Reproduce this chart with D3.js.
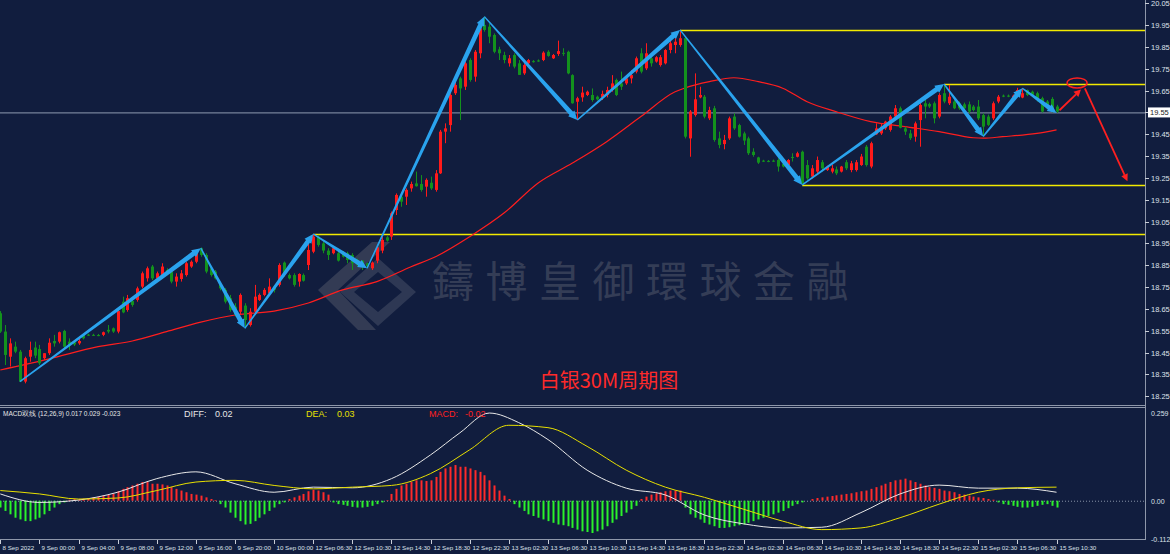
<!DOCTYPE html>
<html><head><meta charset="utf-8">
<script src="https://cdn.jsdelivr.net/npm/d3@7"></script>
<style>
html,body{margin:0;padding:0;background:#111d3e;overflow:hidden;}
svg{display:block;}
</style></head><body>
<svg id="c" width="1170" height="554"></svg>
<script>
// ---------------- DATA ----------------
const opens=[18.630,18.546,18.431,18.477,18.454,18.317,18.431,18.473,18.466,18.424,
18.447,18.503,18.500,18.549,18.500,18.497,18.492,18.531,18.532,18.531,
18.530,18.531,18.554,18.561,18.546,18.683,18.645,18.686,18.691,18.752,
18.790,18.844,18.790,18.805,18.828,18.821,18.775,18.787,18.805,18.844,
18.866,18.928,18.897,18.836,18.821,18.760,18.737,18.699,18.660,18.637,
18.665,18.576,18.637,18.691,18.714,18.721,18.752,18.760,18.862,18.805,
18.805,18.775,18.805,18.851,18.912,18.981,18.950,18.917,18.905,18.905,
18.908,18.905,18.897,18.874,18.871,18.859,18.836,18.871,18.917,18.978,
18.981,19.103,19.164,19.164,19.202,19.225,19.222,19.210,19.228,19.195,
19.271,19.462,19.492,19.638,19.706,19.668,19.790,19.714,19.821,19.951,
19.943,19.905,19.839,19.813,19.775,19.813,19.775,19.729,19.775,19.785,
19.788,19.790,19.828,19.798,19.818,19.823,19.828,19.721,19.599,19.619,
19.630,19.630,19.622,19.619,19.630,19.653,19.699,19.683,19.683,19.706,
19.737,19.821,19.752,19.798,19.783,19.767,19.775,19.836,19.859,19.859,
19.890,19.431,19.538,19.619,19.622,19.523,19.569,19.431,19.405,19.431,
19.531,19.492,19.454,19.431,19.370,19.344,19.329,19.328,19.329,19.332,
19.314,19.309,19.346,19.347,19.370,19.309,19.256,19.279,19.322,19.286,
19.279,19.289,19.279,19.322,19.286,19.286,19.309,19.393,19.302,19.450,
19.454,19.477,19.470,19.531,19.569,19.477,19.454,19.439,19.515,19.592,
19.589,19.592,19.531,19.638,19.592,19.600,19.592,19.587,19.587,19.577,
19.577,19.538,19.531,19.523,19.600,19.627,19.627,19.612,19.638,19.618,
19.653,19.645,19.638,19.615,19.600,19.612,19.577];
const highs=[18.640,18.576,18.515,18.500,18.462,18.431,18.500,18.500,18.485,18.447,
18.515,18.531,18.546,18.554,18.515,18.503,18.515,18.538,18.536,18.536,
18.535,18.546,18.576,18.565,18.653,18.706,18.714,18.691,18.752,18.821,
18.844,18.851,18.821,18.859,18.836,18.836,18.813,18.828,18.866,18.872,
18.920,18.931,18.905,18.844,18.828,18.770,18.745,18.714,18.676,18.721,
18.676,18.653,18.760,18.721,18.745,18.790,18.759,18.859,18.867,18.812,
18.813,18.813,18.812,18.950,18.993,18.989,18.958,18.928,18.935,18.920,
18.915,18.912,18.905,18.880,18.874,18.862,18.867,18.943,18.981,18.985,
19.096,19.179,19.172,19.202,19.233,19.279,19.263,19.248,19.256,19.286,
19.470,19.500,19.638,19.699,19.714,19.783,19.798,19.836,19.951,19.989,
19.958,19.912,19.851,19.828,19.813,19.821,19.790,19.775,19.795,19.790,
19.793,19.830,19.835,19.818,19.879,19.844,19.833,19.725,19.622,19.668,
19.650,19.660,19.627,19.650,19.668,19.721,19.705,19.737,19.721,19.744,
19.806,19.844,19.867,19.813,19.808,19.813,19.840,19.890,19.890,19.928,
19.897,19.561,19.729,19.668,19.630,19.576,19.580,19.462,19.447,19.531,
19.546,19.498,19.462,19.439,19.386,19.347,19.333,19.332,19.334,19.340,
19.320,19.336,19.363,19.370,19.375,19.332,19.309,19.348,19.332,19.306,
19.309,19.302,19.305,19.332,19.328,19.332,19.360,19.401,19.416,19.500,
19.500,19.512,19.538,19.584,19.577,19.485,19.470,19.508,19.607,19.630,
19.595,19.600,19.638,19.680,19.676,19.607,19.600,19.595,19.600,19.584,
19.607,19.546,19.540,19.600,19.630,19.632,19.632,19.632,19.663,19.661,
19.655,19.650,19.645,19.622,19.607,19.620,19.585];
const lows=[18.540,18.393,18.386,18.447,18.317,18.309,18.408,18.424,18.393,18.416,
18.439,18.477,18.492,18.469,18.462,18.480,18.485,18.510,18.526,18.526,
18.525,18.525,18.538,18.540,18.538,18.630,18.637,18.660,18.683,18.744,
18.775,18.782,18.782,18.798,18.805,18.767,18.752,18.775,18.798,18.838,
18.859,18.889,18.813,18.798,18.785,18.735,18.675,18.637,18.615,18.622,
18.561,18.569,18.630,18.686,18.708,18.714,18.725,18.752,18.798,18.785,
18.752,18.752,18.775,18.828,18.905,18.935,18.905,18.874,18.900,18.867,
18.885,18.859,18.828,18.845,18.828,18.836,18.828,18.859,18.905,18.958,
18.966,19.080,19.118,19.126,19.187,19.210,19.187,19.164,19.195,19.187,
19.268,19.409,19.462,19.630,19.515,19.653,19.691,19.691,19.798,19.920,
19.867,19.821,19.790,19.775,19.760,19.752,19.722,19.722,19.770,19.778,
19.782,19.785,19.805,19.795,19.809,19.809,19.725,19.590,19.515,19.599,
19.625,19.599,19.605,19.607,19.619,19.645,19.625,19.653,19.676,19.683,
19.729,19.729,19.744,19.760,19.778,19.760,19.770,19.821,19.821,19.851,
19.431,19.347,19.531,19.615,19.523,19.515,19.416,19.386,19.381,19.424,
19.470,19.435,19.401,19.355,19.347,19.314,19.323,19.322,19.323,19.279,
19.298,19.305,19.325,19.344,19.218,19.241,19.248,19.271,19.279,19.282,
19.271,19.263,19.275,19.286,19.276,19.279,19.305,19.302,19.294,19.447,
19.447,19.470,19.462,19.523,19.477,19.447,19.424,19.416,19.393,19.523,
19.570,19.500,19.523,19.592,19.584,19.565,19.562,19.560,19.546,19.555,
19.515,19.440,19.488,19.515,19.592,19.620,19.620,19.608,19.635,19.615,
19.625,19.625,19.600,19.550,19.565,19.550,19.548];
const closes=[18.546,18.439,18.492,18.454,18.317,18.424,18.462,18.436,18.401,18.447,
18.495,18.492,18.543,18.477,18.485,18.487,18.503,18.515,18.530,18.529,
18.528,18.543,18.546,18.546,18.640,18.634,18.699,18.668,18.744,18.813,
18.836,18.790,18.813,18.844,18.813,18.775,18.798,18.813,18.859,18.866,
18.905,18.897,18.821,18.805,18.790,18.744,18.683,18.645,18.622,18.714,
18.599,18.637,18.706,18.714,18.737,18.752,18.737,18.851,18.813,18.790,
18.760,18.810,18.779,18.920,18.981,18.943,18.917,18.897,18.928,18.871,
18.889,18.874,18.859,18.851,18.844,18.844,18.862,18.932,18.966,18.963,
19.088,19.172,19.141,19.195,19.222,19.212,19.195,19.241,19.202,19.271,
19.462,19.477,19.630,19.676,19.660,19.775,19.699,19.828,19.935,19.928,
19.897,19.828,19.821,19.790,19.798,19.760,19.722,19.767,19.790,19.782,
19.786,19.824,19.809,19.813,19.831,19.820,19.729,19.592,19.615,19.641,
19.645,19.607,19.610,19.635,19.653,19.683,19.630,19.668,19.706,19.721,
19.798,19.737,19.821,19.775,19.803,19.803,19.836,19.867,19.874,19.890,
19.439,19.554,19.610,19.630,19.531,19.561,19.424,19.401,19.424,19.523,
19.477,19.439,19.421,19.363,19.355,19.320,19.327,19.326,19.327,19.302,
19.302,19.332,19.342,19.363,19.225,19.248,19.294,19.332,19.294,19.302,
19.294,19.271,19.302,19.294,19.317,19.322,19.348,19.309,19.409,19.477,
19.485,19.508,19.531,19.569,19.480,19.462,19.432,19.500,19.584,19.577,
19.577,19.523,19.630,19.600,19.622,19.569,19.569,19.569,19.554,19.561,
19.523,19.485,19.493,19.592,19.622,19.624,19.624,19.627,19.653,19.638,
19.630,19.630,19.607,19.554,19.569,19.554,19.554];

// moving average (red line), read at sampled bars
const maBars=[0,10,20,27,34,41,48,56,63,70,77,84,89,96,103,110,117,124,131,138,140,145,150,155,160,165,171,178,185,192,199,201,205,212,216];
const maValues=[18.370,18.421,18.477,18.503,18.546,18.589,18.622,18.640,18.677,18.737,18.775,18.843,18.889,18.981,19.089,19.227,19.318,19.416,19.531,19.645,19.662,19.691,19.709,19.691,19.661,19.599,19.553,19.508,19.485,19.462,19.434,19.432,19.439,19.454,19.470];

// zigzag swing points
const zigBars=[4,41,50,64,75,99,118,139,164,193,201,209,216];
const zigPrices=[18.317,18.928,18.561,18.993,18.836,19.989,19.515,19.928,19.218,19.680,19.440,19.661,19.548];

// yellow horizontal levels
const levelPrices=[19.928,19.680,19.218,18.993];
const levelStartBars=[139,193,164,64];

// red forecast annotation
const ellipseBar=220.2, ellipsePrice=19.685;
const arrowFromBars=[216.6,221.8], arrowFromPrices=[19.560,19.660];
const arrowToBars=[221.0,230.5], arrowToPrices=[19.655,19.235];

// MACD
const histValues=[-0.02,-0.03,-0.04,-0.05,-0.055,-0.06,-0.06,-0.055,-0.05,-0.04,-0.03,-0.02,
-0.01,-0.005,0.003,0.005,0.005,0.006,0.008,0.01,0.012,0.015,0.018,
0.02,0.028,0.035,0.04,0.045,0.05,0.055,0.055,0.05,0.05,0.048,0.045,0.04,0.035,0.03,0.025,0.02,0.018,
0.015,0.01,0.005,0.002,
-0.01,-0.02,-0.035,-0.05,-0.06,-0.07,-0.068,-0.06,-0.05,-0.04,-0.03,
-0.02,-0.01,-0.005,0.005,0.01,0.015,0.02,
0.028,0.032,0.03,0.025,0.018,
-0.005,-0.01,-0.012,-0.015,-0.018,-0.02,-0.02,-0.018,-0.015,-0.01,-0.005,0.002,
0.02,0.035,0.045,0.05,0.055,0.06,0.06,0.058,0.06,0.07,0.085,0.095,0.1,0.105,0.1,0.1,0.095,0.09,0.085,0.075,0.06,0.045,
0.03,0.015,0.005,
-0.01,-0.02,-0.03,-0.04,-0.045,-0.05,-0.055,-0.06,-0.065,-0.07,-0.072,-0.075,-0.08,-0.085,-0.09,-0.092,-0.095,-0.09,-0.085,-0.075,-0.065,-0.055,-0.045,-0.035,-0.025,-0.015,
0.005,0.012,0.018,0.022,0.025,0.028,0.03,0.03,0.03,
-0.02,-0.04,-0.05,-0.055,-0.065,-0.07,-0.075,-0.08,-0.08,-0.078,-0.075,-0.072,-0.07,-0.065,-0.06,-0.055,-0.05,-0.045,-0.04,-0.035,-0.03,-0.022,-0.015,
-0.01,-0.005,0.0,
0.005,0.008,0.01,0.012,0.014,0.016,0.018,0.02,0.022,0.025,0.028,0.03,0.035,0.04,0.045,0.05,0.055,0.06,0.062,0.065,0.06,0.055,0.05,0.045,0.04,0.038,0.035,0.03,0.028,0.025,0.02,0.018,0.015,0.012,0.01,0.008,0.005,0.003,
-0.005,-0.01,-0.012,-0.015,-0.018,-0.02,-0.02,-0.018,-0.015,-0.012,-0.01,-0.015,-0.02];
const diffBars=[0,8,16,24,32,40,48,56,64,72,80,88,94,100,106,112,120,128,136,144,152,160,168,176,184,192,200,208,216];
const diffValues=[0.02,-0.005,0.002,0.025,0.065,0.085,0.05,0.025,0.04,0.038,0.065,0.135,0.2,0.258,0.23,0.18,0.09,0.037,0.017,-0.042,-0.068,-0.08,-0.078,-0.035,0.02,0.046,0.037,0.037,0.025];
const deaBars=[0,8,16,24,32,40,48,56,64,72,80,88,96,104,112,120,128,136,144,152,160,168,176,184,192,200,208,216];
const deaValues=[0.03,0.02,0.005,0.008,0.03,0.055,0.06,0.045,0.035,0.04,0.045,0.08,0.15,0.222,0.215,0.16,0.09,0.04,0.01,-0.025,-0.06,-0.085,-0.08,-0.05,-0.01,0.025,0.038,0.04];

// axes labels
const priceTicks=[20.05,19.95,19.85,19.75,19.65,19.55,19.45,19.35,19.25,19.15,19.05,18.95,18.85,18.75,18.65,18.55,18.45,18.35,18.25];
const timeTickBars=[0,8,16,24,32,40,48,56,64,72,80,88,96,104,112,120,128,136,144,152,160,168,176,184,192,200,208,216];
const timeLabels=["8 Sep 2022","9 Sep 00:00","9 Sep 04:00","9 Sep 08:00","9 Sep 12:00","9 Sep 16:00","9 Sep 20:00","10 Sep 00:00","12 Sep 06:30","12 Sep 10:30","12 Sep 14:30","12 Sep 18:30","12 Sep 22:30","13 Sep 02:30","13 Sep 06:30","13 Sep 10:30","13 Sep 14:30","13 Sep 18:30","13 Sep 22:30","14 Sep 02:30","14 Sep 06:30","14 Sep 10:30","14 Sep 14:30","14 Sep 18:30","14 Sep 22:30","15 Sep 02:30","15 Sep 06:30","15 Sep 10:30"];
const macdTicks=[0.259,0.0,-0.112];
const macdTickLabels=["0.259","0.00","-0.112"];
const currentPrice=19.55;

// ---------------- DRAW ----------------
const W=1170,H=554, BG="#111d3e";
const PLOT_R=1145, MAIN_B=405, MACD_T=408, MACD_B=539;
const svg=d3.select("#c");
svg.append("rect").attr("width",W).attr("height",H).attr("fill",BG);

const x=d3.scaleLinear().domain([0,216]).range([0.3,1056.54]);
const y=d3.scaleLinear().domain([18.25,20.05]).range([396.2,3.3]);
const ym=d3.scaleLinear().domain([-0.112,0.259]).range([538.8,412.7]);
const RED="#ff1a1a", GREEN="#13921d";
const FONT="'Liberation Sans',Arial,sans-serif";

svg.append("defs").append("clipPath").attr("id","mainClip").append("rect").attr("x",0).attr("y",0).attr("width",PLOT_R).attr("height",MAIN_B);
svg.select("defs").append("clipPath").attr("id","macdClip").append("rect").attr("x",0).attr("y",MACD_T).attr("width",PLOT_R).attr("height",MACD_B-MACD_T);

const main=svg.append("g").attr("clip-path","url(#mainClip)");

// watermark logo + text
const wm=main.append("g").attr("opacity",0.38);
wm.append("path").attr("d","M372,242 L390,242 L338,290 L376,330 L358,330 L318,290 Z").attr("fill","#6a6d7a");
wm.append("path").attr("d","M378,258 L416,292 L378,326 L340,292 Z M378,272 L354,292 L378,312 L402,292 Z").attr("fill","#5d6478").attr("fill-rule","evenodd");
wm.append("text").attr("x",432).attr("y",297).attr("font-family","'Noto Sans CJK TC','Noto Sans CJK SC',sans-serif")
  .attr("font-size",42).attr("letter-spacing",11.5).attr("fill","#6e717f").text("鑄博皇御環球金融");

// current price line
main.append("line").attr("x1",0).attr("x2",PLOT_R).attr("y1",y(currentPrice)+0.5).attr("y2",y(currentPrice)+0.5)
  .attr("stroke","#76829a").attr("stroke-width",1.2);

// yellow levels
main.selectAll(".lvl").data(levelPrices).join("line")
  .attr("x1",(d,i)=>x(levelStartBars[i])).attr("x2",PLOT_R)
  .attr("y1",d=>Math.round(y(d))+0.5).attr("y2",d=>Math.round(y(d))+0.5)
  .attr("stroke","#f2ea00").attr("stroke-width",1.6);

// MA line
main.append("path").datum(maBars.map((b,i)=>[b,maValues[i]]))
  .attr("d",d3.line().x(d=>x(d[0])).y(d=>y(d[1])).curve(d3.curveMonotoneX))
  .attr("fill","none").attr("stroke","#ff1e1e").attr("stroke-width",1.2);

// candles
const bars=d3.range(opens.length).map(i=>({i,o:opens[i],h:highs[i],l:lows[i],c:closes[i]}));
const cg=main.append("g");
cg.selectAll(".wick").data(bars).join("line")
  .attr("x1",d=>Math.round(x(d.i))+0.5).attr("x2",d=>Math.round(x(d.i))+0.5)
  .attr("y1",d=>y(d.h)).attr("y2",d=>y(d.l))
  .attr("stroke",d=>d.c>=d.o?RED:GREEN).attr("stroke-width",1);
cg.selectAll(".body").data(bars).join("rect")
  .attr("x",d=>Math.round(x(d.i))-1).attr("width",3)
  .attr("y",d=>y(Math.max(d.o,d.c))).attr("height",d=>Math.max(1,Math.abs(y(d.o)-y(d.c))))
  .attr("fill",d=>d.c>=d.o?RED:GREEN);

// zigzag tapered arrows
const BLUE="#2aa3ee";
const zpts=zigBars.map((b,i)=>[x(b),y(zigPrices[i])]);
for(let k=0;k<zpts.length-1;k++){
  const [ax,ay]=zpts[k],[bx,by]=zpts[k+1];
  const dx=bx-ax,dy=by-ay,L=Math.hypot(dx,dy),ux=dx/L,uy=dy/L,nx=-uy,ny=ux;
  const head=Math.min(9,L*0.3), w0=0.7, w1=2.4, hw=4.2;
  const cx=bx-ux*head, cy=by-uy*head;
  const pts=[[ax+nx*w0,ay+ny*w0],[cx+nx*w1,cy+ny*w1],[cx+nx*hw,cy+ny*hw],[bx,by],[cx-nx*hw,cy-ny*hw],[cx-nx*w1,cy-ny*w1],[ax-nx*w0,ay-ny*w0]];
  main.append("path").attr("d","M"+pts.map(p=>p.join(",")).join("L")+"Z").attr("fill",BLUE);
}

// red annotation
svg.append("ellipse").attr("cx",x(ellipseBar)).attr("cy",y(ellipsePrice)).attr("rx",10).attr("ry",5)
  .attr("fill","none").attr("stroke","#ff2020").attr("stroke-width",1.5);
arrowFromBars.forEach((b,k)=>{
  const ax=x(b),ay=y(arrowFromPrices[k]),bx=x(arrowToBars[k]),by=y(arrowToPrices[k]);
  const dx=bx-ax,dy=by-ay,L=Math.hypot(dx,dy),ux=dx/L,uy=dy/L,nx=-uy,ny=ux;
  const cx=bx-ux*7,cy=by-uy*7;
  svg.append("line").attr("x1",ax).attr("y1",ay).attr("x2",cx).attr("y2",cy).attr("stroke","#ff2020").attr("stroke-width",1.8);
  svg.append("path").attr("d",`M${bx},${by}L${cx+nx*3.5},${cy+ny*3.5}L${cx-nx*3.5},${cy-ny*3.5}Z`).attr("fill","#ff2020");
});

// chart title
svg.append("text").attr("x",609).attr("y",388).attr("text-anchor","middle")
  .attr("font-family","'Noto Sans CJK SC',sans-serif").attr("font-size",20).attr("fill","#ff2a2a").text("白银30M周期图");

// ---------- MACD panel ----------
const mg=svg.append("g").attr("clip-path","url(#macdClip)");
mg.append("line").attr("x1",0).attr("x2",PLOT_R).attr("y1",ym(0)+0.5).attr("y2",ym(0)+0.5)
  .attr("stroke","#8893a8").attr("stroke-dasharray","1,2");
mg.selectAll(".hist").data(histValues).join("line")
  .attr("x1",(d,i)=>Math.round(x(i))+0.5).attr("x2",(d,i)=>Math.round(x(i))+0.5)
  .attr("y1",ym(0)).attr("y2",d=>ym(d))
  .attr("stroke",d=>d>=0?"#ff2a2a":"#2bf22b").attr("stroke-width",2);
mg.append("path").datum(diffBars.map((b,i)=>[b,diffValues[i]]))
  .attr("d",d3.line().x(d=>x(d[0])).y(d=>ym(d[1])).curve(d3.curveMonotoneX))
  .attr("fill","none").attr("stroke","#e8e8e8").attr("stroke-width",1);
mg.append("path").datum(deaBars.map((b,i)=>[b,deaValues[i]]))
  .attr("d",d3.line().x(d=>x(d[0])).y(d=>ym(d[1])).curve(d3.curveMonotoneX))
  .attr("fill","none").attr("stroke","#e8e000").attr("stroke-width",1);

// MACD labels
const lbl=(tx,ty,t,c,s)=>svg.append("text").attr("x",tx).attr("y",ty).attr("font-family",FONT).attr("font-size",s||9).attr("fill",c).text(t);
lbl(3,416,"MACD双线 (12,26,9) 0.017 0.029 -0.023","#e6e6e6",6.5);
lbl(184,417,"DIFF:","#e6e6e6",9); lbl(215,417,"0.02","#e6e6e6",9);
lbl(306,417,"DEA:","#e6e000",9); lbl(337,417,"0.03","#e6e000",9);
lbl(429,417,"MACD:","#ff2020",9); lbl(465,417,"-0.02","#ff2020",9);

// ---------- frames ----------
svg.append("line").attr("x1",0).attr("x2",PLOT_R).attr("y1",405.5).attr("y2",405.5).attr("stroke","#8e97aa").attr("stroke-width",1);
svg.append("line").attr("x1",0).attr("x2",PLOT_R).attr("y1",407.5).attr("y2",407.5).attr("stroke","#8e97aa").attr("stroke-width",1);
svg.append("line").attr("x1",0).attr("x2",PLOT_R).attr("y1",539.5).attr("y2",539.5).attr("stroke","#8e97aa").attr("stroke-width",1);
svg.append("line").attr("x1",PLOT_R+0.5).attr("x2",PLOT_R+0.5).attr("y1",0).attr("y2",540).attr("stroke","#8e97aa").attr("stroke-width",1);

// price axis
const pa=svg.append("g");
priceTicks.forEach(v=>{
  pa.append("line").attr("x1",PLOT_R).attr("x2",PLOT_R+4).attr("y1",Math.round(y(v))+0.5).attr("y2",Math.round(y(v))+0.5).attr("stroke","#c8ccd6");
  pa.append("text").attr("x",PLOT_R+6).attr("y",y(v)+3).attr("font-family",FONT).attr("font-size",7.5).attr("fill","#dde1ea").text(v.toFixed(2));
});
// current price tag
pa.append("rect").attr("x",PLOT_R+3).attr("y",y(currentPrice)-5).attr("width",22).attr("height",10).attr("fill","#ffffff");
pa.append("text").attr("x",PLOT_R+5).attr("y",y(currentPrice)+3).attr("font-family",FONT).attr("font-size",7.5).attr("fill","#222").text(currentPrice.toFixed(2));

// macd axis
macdTicks.forEach((v,k)=>{
  pa.append("text").attr("x",PLOT_R+6).attr("y",ym(v)+3).attr("font-family",FONT).attr("font-size",7).attr("fill","#dde1ea").text(macdTickLabels[k]);
});

// time axis
const ta=svg.append("g");
timeTickBars.forEach((b,k)=>{
  const tx=Math.round(x(b))+0.5;
  ta.append("line").attr("x1",tx).attr("x2",tx).attr("y1",540).attr("y2",544).attr("stroke","#c8ccd6");
  ta.append("text").attr("x",tx+2).attr("y",550).attr("font-family",FONT).attr("font-size",6.2).attr("fill","#dde1ea").text(timeLabels[k]);
});
</script>
</body></html>
